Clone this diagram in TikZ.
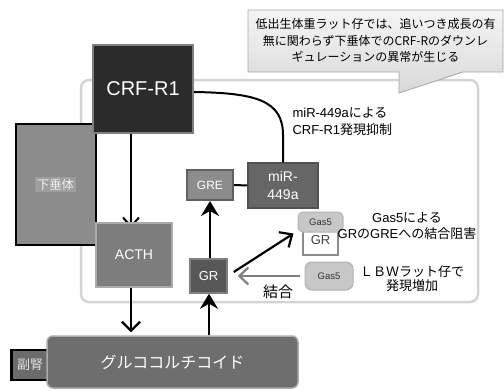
\documentclass[tikz,border=0pt]{standalone}
\usepackage{fontspec}
\setmainfont{Noto Sans CJK JP}
\newfontfamily\latf{Liberation Sans}
\usetikzlibrary{arrows.meta,calc}
\pgfdeclarelayer{bg}
\pgfsetlayers{bg,main}
\newcommand{\jsz}[2]{\fontsize{#1pt}{#2pt}\selectfont}
\begin{document}
\begin{tikzpicture}[x=1pt,y=-1pt,
  box/.style={rectangle,inner sep=0pt,align=center,text=white},
  arr/.style={line width=2.2pt,draw=black},
  uphead/.style={-{Stealth[length=15pt,width=18pt,inset=5pt]}},
  barbhead/.style={-{Straight Barb[length=9pt,width=18pt,line width=2.2pt]}},
  gasbox/.style={box,fill=black!22,draw=black!30,line width=1pt,text=black!80,
    font=\latf\fontsize{9.5}{11}\selectfont},
  lbl/.style={text=black}]
\useasboundingbox (0,0) rectangle (504,391);

% large frame
\node[rectangle,rounded corners=8pt,draw=black!17,line width=2.5pt,
  minimum width=397,minimum height=222,inner sep=0pt] (frame) at (279.5,191) {};

% callout
\draw[draw=black!35,top color=black!4,bottom color=black!15,line width=0.8pt]
  (248,10) -- (503,10) -- (503,72) -- (463,72) -- (399,93) -- (399,72) -- (248,72) -- cycle;
\node[lbl,font=\jsz{12}{16.5},align=center] (note) at (375.5,40.5)
  {低出生体重ラット仔では、追いつき成長の有\\無に関わらず下垂体でのCRF-Rのダウンレ\\ギュレーションの異常が生じる};

% pituitary
\node[box,fill=black!45,draw=black,line width=2.5pt,minimum width=80,minimum height=121] (pit) at (56,184.5) {};
\node[fill=black!38,text=white!94!black,inner sep=1.5pt,font=\jsz{12.5}{14}] (pitlab) at (55.5,184.5) {下垂体};

% CRF-R1
\node[box,fill=black!83,draw=black!50,line width=2pt,minimum width=100,minimum height=88,
  font=\latf\fontsize{20}{24}\selectfont] (crf) at (143,89) {CRF-R1};

% ACTH
\node[box,fill=black!51,draw=black!33,line width=2pt,minimum width=76,minimum height=64,
  font=\latf\fontsize{14}{16}\selectfont] (acth) at (134,255) {ACTH};

% GRE, miR-449a, GR
\node[box,fill=black!45,draw=black!62,line width=2pt,minimum width=46,minimum height=30,
  font=\latf\fontsize{12}{14}\selectfont] (gre) at (210,185) {GRE};
\node[box,fill=black!60,draw=black!68,line width=1.5pt,minimum width=70,minimum height=45,
  font=\latf\fontsize{14}{18}\selectfont] (mir) at (283,185.5) {miR-\\449a};
\node[box,fill=black!66,draw=black!50,line width=1.5pt,minimum width=37,minimum height=34,
  font=\latf\fontsize{13}{15}\selectfont] (gr) at (208.5,276) {GR};

% GR bound with Gas5
\node[box,fill=white,draw=black!45,line width=1.5pt,text=black!75,minimum width=35,minimum height=30,
  font=\latf\fontsize{13}{15}\selectfont] (grw) at (320.5,240) {GR};
\node[gasbox,rounded corners=5pt,minimum width=45,minimum height=20] (gas5a) at (320.5,222) {Gas5};
\node[gasbox,rounded corners=7pt,minimum width=48,minimum height=28] (gas5b) at (329,276) {Gas5};

% adrenal and glucocorticoid
\node[box,fill=black!58,draw=black,line width=2.5pt,minimum width=37,minimum height=30,
  text=black!12,font=\jsz{13}{15}] (adr) at (30,365) {副腎};
\node[box,rounded corners=6pt,fill=black!57,draw=black!33,line width=1.5pt,minimum width=251,
  minimum height=52,font=\jsz{16}{18}] (gc) at (172.5,362) {グルココルチコイド};

% connectors
\begin{pgfonlayer}{bg}
\draw[arr,-{Straight Barb[length=9pt,width=16pt,line width=2pt]}] ($(crf.south)+(-12,0)$) -- ($(acth.north)+(-3,6)$);
\end{pgfonlayer}
\draw[arr,barbhead] ($(acth.south)+(-3,0)$) -- ($(gc.north)+(-41.5,-3)$);
\draw[arr,uphead] ($(gc.north)+(36.5,0)$) -- ($(gr.south)+(0.5,0)$);
\draw[arr,uphead] ($(gr.north)+(1.5,0)$) -- (gre.south);
\draw[line width=2pt] (gre.east) -- (mir.west);
\coordinate (bend) at (283,135);
\draw[line width=2pt] ($(crf.east)+(0,3)$) .. controls (255,93) and (283,100) .. (bend) -- (mir.north);
\draw[arr,-{Straight Barb[length=10pt,width=18pt,line width=2.2pt]}] ($(gr.east)+(6,-4)$) -- ($(gas5a.south west)+(-4,1)$);
\draw[line width=2.5pt,draw=black!50,-{Straight Barb[length=9pt,width=17pt,line width=2.2pt]}]
  ($(gas5b.west)+(-5,0)$) -- ($(gr.east)+(10,0)$);

% labels
\node[lbl,font=\jsz{13}{17},align=left,anchor=west] (lab1) at (289,121.5)
  {{\latf miR-449a}による\\{\latf CRF-R1}発現抑制};
\node[lbl,font=\jsz{13}{16},align=center] (lab2) at (407,226)
  {{\latf Gas5}による\\{\latf GR}の{\latf GRE}への結合阻害};
\node[lbl,font=\jsz{13}{13.5},align=center] (lab3) at (412,278.5) {ＬＢＷラット仔で\\発現増加};
\node[lbl,font=\jsz{15}{17}] (bind) at (278,292) {結合};
\end{tikzpicture}
\end{document}
